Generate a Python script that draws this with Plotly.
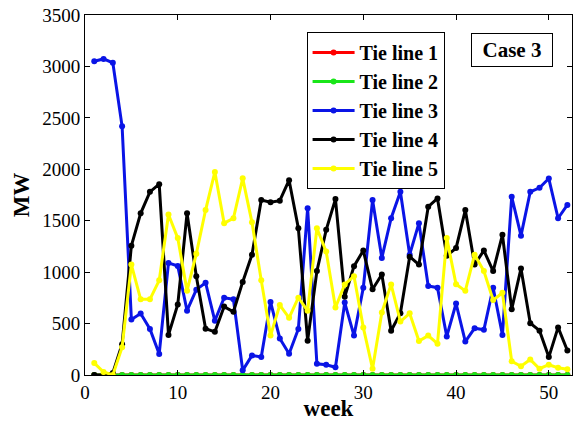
import plotly.graph_objects as go

weeks = list(range(1, 53))

tie1 = [0] * 52
tie2 = [0] * 52
tie3 = [3051, 3073, 3035, 2418, 540, 598, 447, 205, 1090, 1060,
        625, 830, 897, 527, 752, 736, 45, 190, 174, 710,
        355, 206, 447, 1620, 109, 100, 75, 704, 383, 849,
        1701, 1138, 1524, 1781, 1170, 1476, 865, 849, 375, 695,
        325, 455, 440, 849, 390, 1733, 1355, 1781, 1820, 1910,
        1524, 1653]
tie4 = [0, 0, 20, 300, 1257, 1572, 1781, 1855, 390, 685,
        1572, 961, 450, 420, 665, 615, 905, 1170, 1701, 1680,
        1695, 1894, 1427, 334, 1010, 1411, 1710, 760, 1058, 1210,
        833, 977, 431, 600, 1150, 1074, 1636, 1717, 1160, 1234,
        1604, 1074, 1210, 1010, 1363, 640, 1035, 503, 431, 174,
        463, 238]
tie5 = [116, 29, 0, 270, 1074, 736, 736, 920, 1560, 1331,
        820, 1178, 1604, 1974, 1476, 1524, 1912, 1484, 920, 383,
        680, 556, 752, 624, 1427, 1200, 656, 880, 961, 463,
        61, 608, 881, 520, 600, 330, 383, 305, 1331, 882,
        818, 1170, 1010, 728, 800, 133, 85, 150, 61, 100,
        70, 55]

series = [
    ("Tie line 1", tie1, "#ff0000"),
    ("Tie line 2", tie2, "#19e619"),
    ("Tie line 3", tie3, "#0a14e6"),
    ("Tie line 4", tie4, "#000000"),
    ("Tie line 5", tie5, "#ffff00"),
]

fig = go.Figure()
for i, (name, vals, col) in enumerate(series):
    fig.add_trace(go.Scatter(
        x=weeks, y=vals, name=name, mode="lines+markers",
        line=dict(color=col, width=3),
        marker=dict(color=col, size=6, symbol="circle"),
        legendgroup=f"g{i}",
    ))

serif = "Liberation Serif, Times New Roman, serif"
axis_common = dict(
    showline=True, linecolor="black", linewidth=1, mirror="ticks",
    ticks="inside", ticklen=5, tickcolor="black", showgrid=False,
    zeroline=False, tickfont=dict(family=serif, size=19, color="black"),
)

fig.update_layout(
    width=575, height=421,
    margin=dict(l=85, r=2, t=15, b=43),
    paper_bgcolor="white", plot_bgcolor="white",
    xaxis=dict(range=[0, 52.5], tickvals=[0, 10, 20, 30, 40, 50],
               title=dict(text="<b>week</b>", standoff=0,
                          font=dict(family=serif, size=23, color="black")),
               **axis_common),
    yaxis=dict(range=[0, 3500], tickvals=[0, 500, 1000, 1500, 2000, 2500, 3000, 3500],
               title=dict(text="<b>MW</b>", standoff=6,
                          font=dict(family=serif, size=23, color="black")),
               **axis_common),
    legend=dict(x=0.455, y=0.953, xanchor="left", yanchor="top",
                bordercolor="black", borderwidth=1, bgcolor="white",
                font=dict(family=serif, size=20, color="black", weight="bold"),
                tracegroupgap=0, itemwidth=42),
    showlegend=True,
    annotations=[dict(text="<b>Case 3</b>", x=0.877, y=0.9036, xref="paper", yref="paper",
                      xanchor="center", yanchor="middle",
                      showarrow=False, bordercolor="black", borderwidth=1, bgcolor="white",
                      width=76, height=28, borderpad=2,
                      font=dict(family=serif, size=21, color="black"))],
)

fig.write_html("out.html")
